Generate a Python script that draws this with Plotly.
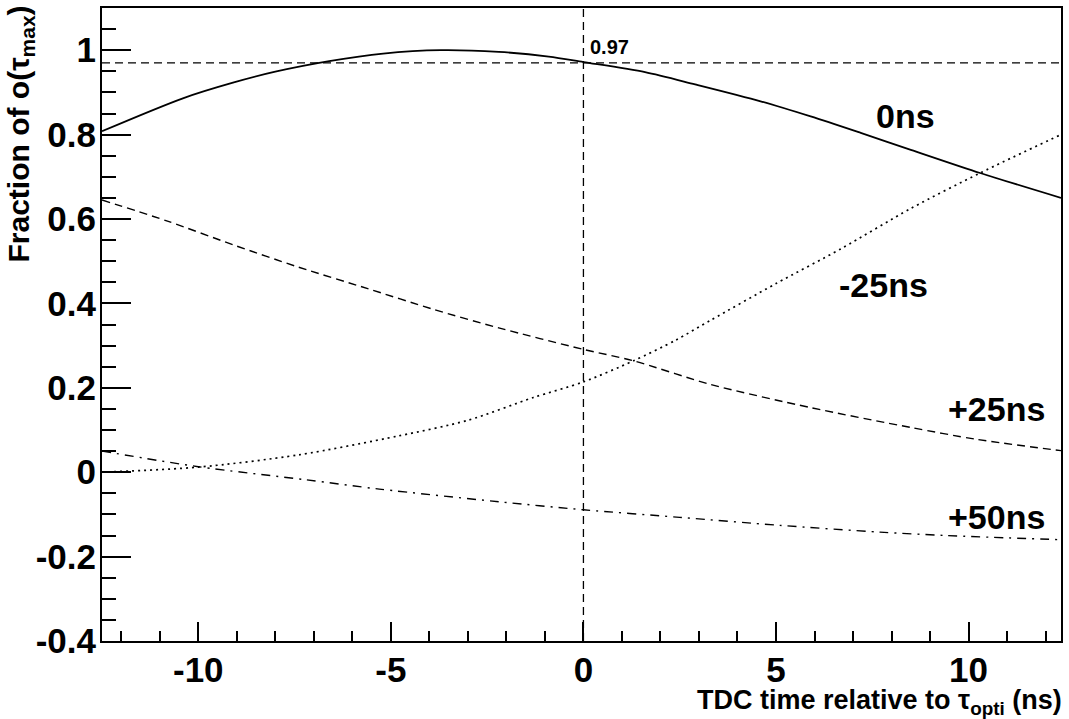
import plotly.graph_objects as go

# ---------------- data ----------------
X_RANGE = [-12.5, 12.4]
Y_RANGE = [-0.4, 1.1]

x_0ns = [-12.5, -10.4, -9.1, -8.0, -6.6, -5.2, -3.7, -2.2, -0.9, 0.0, 1.6, 2.9, 4.6, 5.9, 7.2, 8.5, 10.3, 12.4]
y_0ns = [0.808, 0.886, 0.923, 0.949, 0.974, 0.992, 1.0, 0.996, 0.985, 0.972, 0.948, 0.919, 0.879, 0.843, 0.804, 0.764, 0.709, 0.650]

x_m25 = [-12.5, -10.0, -7.4, -4.8, -3.0, -1.3, 0.0, 1.3, 2.4, 3.3, 5.0, 6.7, 8.5, 10.3, 12.4]
y_m25 = [0.0, 0.012, 0.041, 0.086, 0.123, 0.177, 0.214, 0.264, 0.313, 0.360, 0.447, 0.530, 0.625, 0.709, 0.800]

x_p25 = [-12.5, -10.8, -9.1, -7.4, -5.6, -3.9, -2.2, 0.0, 1.3, 3.3, 5.9, 8.5, 10.2, 12.4]
y_p25 = [0.645, 0.595, 0.539, 0.486, 0.435, 0.386, 0.342, 0.291, 0.264, 0.208, 0.153, 0.106, 0.078, 0.051]

x_p50 = [-12.5, -10.0, -7.2, -5.3, -2.2, 0.0, 2.5, 5.1, 7.7, 9.4, 12.4]
y_p50 = [0.050, 0.013, -0.018, -0.040, -0.070, -0.089, -0.107, -0.126, -0.142, -0.150, -0.160]

REF_X = 0.0
REF_Y = 0.97
REF_LABEL = "0.97"

curve_labels = ["0ns", "-25ns", "+25ns", "+50ns"]
label_x = [8.35, 7.8, 10.73, 10.73]
label_y = [0.843, 0.443, 0.149, -0.105]

x_tickvals = [-10, -5, 0, 5, 10]
x_ticktext = ["-10", "-5", "0", "5", "10"]
y_tickvals = [-0.4, -0.2, 0.0, 0.2, 0.4, 0.6, 0.8, 1.0]
y_ticktext = ["-0.4", "-0.2", "0", "0.2", "0.4", "0.6", "0.8", "1"]

x_title = "TDC time relative to τ<sub>opti</sub> (ns)"
y_title = "Fraction of o(τ<sub>max</sub>)"

# ---------------- figure ----------------
FONT = "Liberation Sans, Arial, sans-serif"
fig = go.Figure()

series = [
    (x_0ns, y_0ns, "solid", 1.8),
    (x_m25, y_m25, "2px,4px", 1.7),
    (x_p25, y_p25, "8px,5px", 1.4),
    (x_p50, y_p50, "9px,6px,2px,6px", 1.4),
]
for xs, ys, dash, w in series:
    fig.add_trace(go.Scatter(x=xs, y=ys, mode="lines", showlegend=False, hoverinfo="skip",
                             line=dict(color="black", width=w, dash=dash, shape="spline", smoothing=0.8)))

# reference lines
fig.add_trace(go.Scatter(x=X_RANGE, y=[REF_Y, REF_Y], mode="lines", showlegend=False,
                         line=dict(color="black", width=1.3, dash="8px,5px")))
fig.add_trace(go.Scatter(x=[REF_X, REF_X], y=Y_RANGE, mode="lines", showlegend=False,
                         line=dict(color="black", width=1.3, dash="8px,5px")))

fig.add_annotation(x=REF_X, y=REF_Y, text=REF_LABEL, showarrow=False, xanchor="left", yanchor="bottom",
                   xshift=5, yshift=3, font=dict(family=FONT, size=20, color="black", weight="bold"))

for t, lx, ly in zip(curve_labels, label_x, label_y):
    fig.add_annotation(x=lx, y=ly, text=t, showarrow=False, xanchor="center", yanchor="middle",
                       font=dict(family=FONT, size=34, color="black", weight="bold"))

fig.add_annotation(xref="paper", yref="paper", x=1, y=0, text=x_title, showarrow=False,
                   xanchor="right", yanchor="top", yshift=-42, xshift=3,
                   font=dict(family=FONT, size=27, color="black", weight="bold"))
fig.add_annotation(xref="paper", yref="paper", x=0, y=1, text=y_title, showarrow=False,
                   xanchor="center", yanchor="top", xshift=-82, yshift=4, textangle=-90,
                   font=dict(family=FONT, size=30, color="black", weight="bold"))

axis_common = dict(showline=True, linewidth=2, linecolor="black", mirror=True, showgrid=False,
                   zeroline=False, ticks="inside", tickcolor="black", tickwidth=1.5,
                   tickmode="array", tickfont=dict(family=FONT, size=35, color="black", weight="bold"))

fig.update_xaxes(range=X_RANGE, tickvals=x_tickvals, ticktext=x_ticktext, ticklen=19,
                 ticklabelstandoff=-3,
                 minor=dict(tickmode="linear", tick0=0, dtick=1, ticks="inside", ticklen=10,
                            tickcolor="black", tickwidth=1.5, showgrid=False),
                 **axis_common)
fig.update_yaxes(range=Y_RANGE, tickvals=y_tickvals, ticktext=y_ticktext, ticklen=29,
                 ticklabelstandoff=-3,
                 minor=dict(tickmode="linear", tick0=0, dtick=0.05, ticks="inside", ticklen=14,
                            tickcolor="black", tickwidth=1.5, showgrid=False),
                 **axis_common)

fig.update_layout(width=1069, height=719, margin=dict(l=102, r=6, t=6, b=78),
                  plot_bgcolor="white", paper_bgcolor="white", showlegend=False)

fig.write_html("out.html")
